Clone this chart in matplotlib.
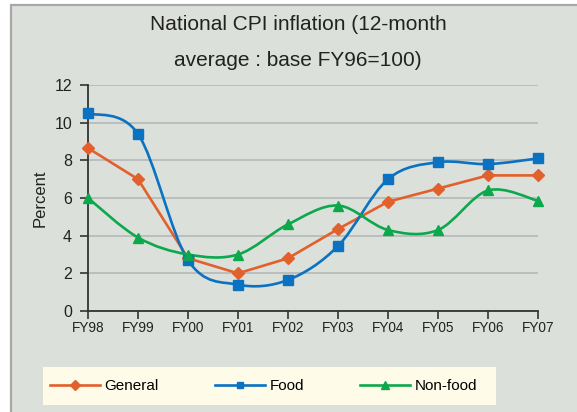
import matplotlib
matplotlib.use("Agg")
import matplotlib.pyplot as plt
from matplotlib.path import Path
from matplotlib.patches import PathPatch, Rectangle
from matplotlib.lines import Line2D
import numpy as np

plt.rcParams['font.family'] = ['Liberation Sans', 'DejaVu Sans']

years = ["FY98", "FY99", "FY00", "FY01", "FY02", "FY03", "FY04", "FY05", "FY06", "FY07"]
general = [8.65, 7.0, 2.8, 2.0, 2.8, 4.35, 5.8, 6.5, 7.2, 7.2]
food = [10.5, 9.4, 2.7, 1.4, 1.65, 3.45, 7.0, 7.9, 7.8, 8.1]
nonfood = [6.0, 3.9, 3.0, 3.0, 4.6, 5.6, 4.3, 4.3, 6.4, 5.85]
yticks = [0, 2, 4, 6, 8, 10, 12]

BG = '#DCE0DA'
C_GEN = '#E2602C'
C_FOOD = '#0B72C2'
C_NON = '#0CA84C'

W, H = 577, 412
fig = plt.figure(figsize=(W / 100, H / 100), dpi=100, facecolor='white')

# outer frame
fig.patches.append(Rectangle((11 / W, -0.05), 1.2, 1 - 4.5 / H + 0.05, transform=fig.transFigure,
                             facecolor=BG, edgecolor='#A8A8A8', linewidth=1.6, zorder=-2))
# legend box
fig.patches.append(Rectangle((43 / W, 1 - 405 / H), (496 - 43) / W, (405 - 367) / H,
                             transform=fig.transFigure, facecolor='#FEFCE8', edgecolor='none', zorder=-1))

ax = fig.add_axes([88 / W, 1 - 311 / H, (538 - 88) / W, (311 - 85) / H])
ax.set_facecolor('none')
ax.set_zorder(1)
x = np.arange(len(years))


def smooth_path(xs, ys):
    pts = np.column_stack([xs, ys]).astype(float)
    n = len(pts)
    verts = [pts[0]]
    codes = [Path.MOVETO]
    for i in range(n - 1):
        p0 = pts[i - 1] if i > 0 else pts[i]
        p1 = pts[i]
        p2 = pts[i + 1]
        p3 = pts[i + 2] if i + 2 < n else pts[i + 1]
        c1 = p1 + (p2 - p0) / 6.0
        c2 = p2 - (p3 - p1) / 6.0
        verts += [c1, c2, p2]
        codes += [Path.CURVE4] * 3
    return Path(verts, codes)


lw = 1.9
ax.plot(x, general, color=C_GEN, lw=lw, marker='D', ms=6.5, clip_on=False, zorder=3)
for vals, col, mk, ms in [(food, C_FOOD, 's', 6.5), (nonfood, C_NON, '^', 7.5)]:
    ax.add_patch(PathPatch(smooth_path(x, vals), facecolor='none', edgecolor=col, lw=lw,
                           clip_on=False, zorder=3))
    ax.plot(x, vals, linestyle='none', marker=mk, color=col, ms=ms, clip_on=False, zorder=4)

ax.set_xlim(0, len(years) - 1)
ax.set_ylim(0, 12)
ax.set_xticks(x)
ax.set_xticklabels(years, fontsize=9.8, color='#222222')
ax.set_yticks(yticks)
ax.set_yticklabels([str(v) for v in yticks], fontsize=11.5, color='#222222')
ax.tick_params(axis='both', direction='out', length=5.5, width=1.2, color='#333333', pad=2)
ax.tick_params(axis='y', pad=6)
ax.grid(axis='y', color='#B4B8B6', lw=1.2)
ax.set_axisbelow(True)
for s in ['top', 'right']:
    ax.spines[s].set_visible(False)
for s in ['left', 'bottom']:
    ax.spines[s].set_color('#333333')
    ax.spines[s].set_linewidth(1.3)
ax.set_ylabel('Percent', fontsize=12, color='#222222', labelpad=5)

fig.text(298 / W, 1 - 25 / H, 'National CPI inflation (12-month', ha='center', va='center',
         fontsize=15, color='#222222')
fig.text(298 / W, 1 - 60 / H, 'average : base FY96=100)', ha='center', va='center',
         fontsize=15, color='#222222')

handles = [Line2D([], [], color=C_GEN, lw=lw, marker='D', ms=5),
           Line2D([], [], color=C_FOOD, lw=lw, marker='s', ms=5),
           Line2D([], [], color=C_NON, lw=lw, marker='^', ms=5.5)]
fig.legend(handles, ['General', 'Food', 'Non-food'], ncol=3, frameon=False,
           loc='center left', bbox_to_anchor=(48 / W, 1 - 386 / H), fontsize=11,
           handlelength=3.3, handletextpad=0.3, columnspacing=3.65, borderpad=0.1,
           borderaxespad=0)

fig.savefig('out.png', dpi=100, facecolor='white')
